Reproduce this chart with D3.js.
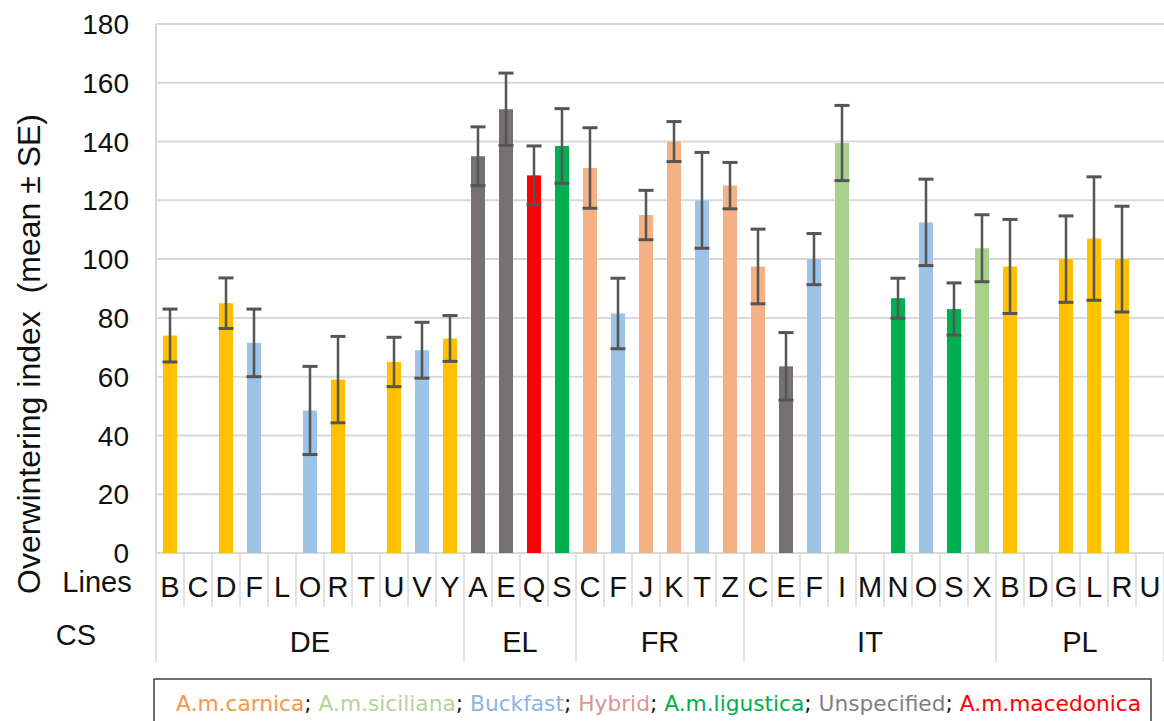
<!DOCTYPE html>
<html>
<head>
<meta charset="utf-8">
<script src="https://cdn.jsdelivr.net/npm/d3@7"></script>
<style>
  body { margin: 0; background: #fff; }
  svg { display: block; }
</style>
</head>
<body>
<div id="chart"></div>
<script>
// data
const groups = ["DE", "EL", "FR", "IT", "PL"];
const groupSizes = [11, 4, 6, 9, 6];
const lines = ["B","C","D","F","L","O","R","T","U","V","Y",
               "A","E","Q","S",
               "C","F","J","K","T","Z",
               "C","E","F","I","M","N","O","S","X",
               "B","D","G","L","R","U"];
const means = [74, null, 85, 71.5, null, 48.5, 59, null, 65, 69, 73,
               135, 151, 128.5, 138.5,
               131, 81.5, 115, 140, 120, 125,
               97.5, 63.5, 100, 139.5, null, 86.7, 112.5, 83, 103.7,
               97.5, null, 100, 107, 100, null];
const ses = [9, null, 8.6, 11.5, null, 15, 14.7, null, 8.4, 9.5, 7.8,
             10, 12.3, 10, 12.7,
             13.7, 12, 8.4, 6.8, 16.3, 7.9,
             12.7, 11.5, 8.7, 12.8, null, 6.8, 14.7, 8.9, 11.4,
             16, null, 14.7, 21, 18, null];
const breeds = ["car", null, "car", "buck", null, "buck", "car", null, "car", "buck", "car",
                "uns", "uns", "mac", "lig",
                "hyb", "buck", "hyb", "hyb", "buck", "hyb",
                "hyb", "uns", "buck", "sic", null, "lig", "buck", "lig", "sic",
                "car", null, "car", "car", "car", null];
const yTicks = [0, 20, 40, 60, 80, 100, 120, 140, 160, 180];

const barColor = {
  car: "#FFC000", hyb: "#F4B183", buck: "#9DC3E6", sic: "#A9D18E",
  lig: "#00B050", uns: "#767171", mac: "#FF0000"
};
const legendItems = [
  ["A.m.carnica", "#F79646"],
  ["A.m.siciliana", "#B5D49C"],
  ["Buckfast", "#8EB4E3"],
  ["Hybrid", "#D99694"],
  ["A.m.ligustica", "#00B050"],
  ["Unspecified", "#7F7F7F"],
  ["A.m.macedonica", "#FF0000"]
];

const width = 1164, height = 721;
const plotLeft = 156, plotRight = 1164, plotTop = 24, plotBottom = 553;

const svg = d3.select("#chart").append("svg")
    .attr("width", width)
    .attr("height", height)
    .style("font-family", "'Liberation Sans', Arial, sans-serif");

const x = d3.scaleBand()
    .domain(d3.range(lines.length))
    .range([plotLeft, plotRight])
    .paddingInner(0.5)
    .paddingOuter(0.25);
const step = x.step();

const y = d3.scaleLinear().domain([0, 180]).range([plotBottom, plotTop]);

// gridlines
svg.append("g").selectAll("line")
    .data(yTicks)
    .enter().append("line")
    .attr("x1", plotLeft).attr("x2", plotRight)
    .attr("y1", d => y(d)).attr("y2", d => y(d))
    .attr("stroke", "#D9D9D9")
    .attr("stroke-width", 2);

svg.append("line")
    .attr("x1", plotLeft).attr("x2", plotLeft)
    .attr("y1", y(180)).attr("y2", plotBottom)
    .attr("stroke", "#D9D9D9").attr("stroke-width", 2);

// y tick labels
svg.append("g").selectAll("text")
    .data(yTicks)
    .enter().append("text")
    .attr("x", 129)
    .attr("y", d => y(d))
    .attr("dy", "0.36em")
    .attr("text-anchor", "end")
    .attr("font-size", 28)
    .attr("fill", "#111")
    .text(d => d);

// y axis title
svg.append("text")
    .attr("transform", "translate(40,354) rotate(-90)")
    .attr("text-anchor", "middle")
    .attr("font-size", 32)
    .attr("fill", "#111")
    .attr("xml:space", "preserve")
    .style("white-space", "pre")
    .text("Overwintering index  (mean ± SE)");

// bars
const idx = d3.range(lines.length).filter(i => means[i] != null);
svg.append("g").selectAll("rect")
    .data(idx)
    .enter().append("rect")
    .attr("x", i => x(i))
    .attr("width", x.bandwidth())
    .attr("y", i => y(means[i]))
    .attr("height", i => plotBottom - y(means[i]))
    .attr("fill", i => barColor[breeds[i]]);

// error bars
const eb = svg.append("g")
    .attr("stroke", "#555")
    .selectAll("g")
    .data(idx)
    .enter().append("g");
eb.append("line")
    .attr("x1", i => x(i) + x.bandwidth() / 2)
    .attr("x2", i => x(i) + x.bandwidth() / 2)
    .attr("y1", i => y(means[i] + ses[i]))
    .attr("y2", i => y(means[i] - ses[i]))
    .attr("stroke-width", 2.5);
[1, -1].forEach(s => {
  eb.append("line")
      .attr("x1", i => x(i) + x.bandwidth() / 2 - 7.5)
      .attr("x2", i => x(i) + x.bandwidth() / 2 + 7.5)
      .attr("y1", i => y(means[i] + s * ses[i]))
      .attr("y2", i => y(means[i] + s * ses[i]))
      .attr("stroke-width", 3);
});

// category axis: separators
const bounds = [0];
groupSizes.forEach(n => bounds.push(bounds[bounds.length - 1] + n));
svg.append("g").selectAll("line")
    .data(d3.range(lines.length + 1))
    .enter().append("line")
    .attr("x1", i => plotLeft + i * step)
    .attr("x2", i => plotLeft + i * step)
    .attr("y1", plotBottom)
    .attr("y2", i => bounds.includes(i) ? 662 : 607)
    .attr("stroke", "#D9D9D9")
    .attr("stroke-width", 1.5);

// line labels
svg.append("g").selectAll("text")
    .data(lines)
    .enter().append("text")
    .attr("x", (d, i) => x(i) + x.bandwidth() / 2)
    .attr("y", 597)
    .attr("text-anchor", "middle")
    .attr("font-size", 29)
    .attr("fill", "#111")
    .text(d => d);

// group labels
svg.append("g").selectAll("text")
    .data(groups)
    .enter().append("text")
    .attr("x", (d, i) => plotLeft + (bounds[i] + bounds[i + 1]) / 2 * step)
    .attr("y", 652)
    .attr("text-anchor", "middle")
    .attr("font-size", 29)
    .attr("fill", "#111")
    .text(d => d);

svg.append("text")
    .attr("x", 97).attr("y", 592)
    .attr("text-anchor", "middle")
    .attr("font-size", 29)
    .attr("fill", "#111")
    .text("Lines");
svg.append("text")
    .attr("x", 76).attr("y", 645)
    .attr("text-anchor", "middle")
    .attr("font-size", 29)
    .attr("fill", "#111")
    .text("CS");

// legend
svg.append("rect")
    .attr("x", 154).attr("y", 679)
    .attr("width", 997).attr("height", 60)
    .attr("fill", "#fff")
    .attr("stroke", "#404040")
    .attr("stroke-width", 1.5);

const lg = svg.append("text")
    .attr("x", 176).attr("y", 711)
    .attr("font-family", "'DejaVu Sans', Verdana, sans-serif")
    .attr("font-size", 20)
    .attr("xml:space", "preserve")
    .style("white-space", "pre");
legendItems.forEach((d, i) => {
  lg.append("tspan").attr("fill", d[1]).text(d[0]);
  if (i < legendItems.length - 1) lg.append("tspan").attr("fill", "#111").text("; ");
});
// fit the legend line to the width it has in the picture
const lgw = lg.node().getComputedTextLength();
lg.attr("font-size", 20 * 966 / lgw);
</script>
</body>
</html>
